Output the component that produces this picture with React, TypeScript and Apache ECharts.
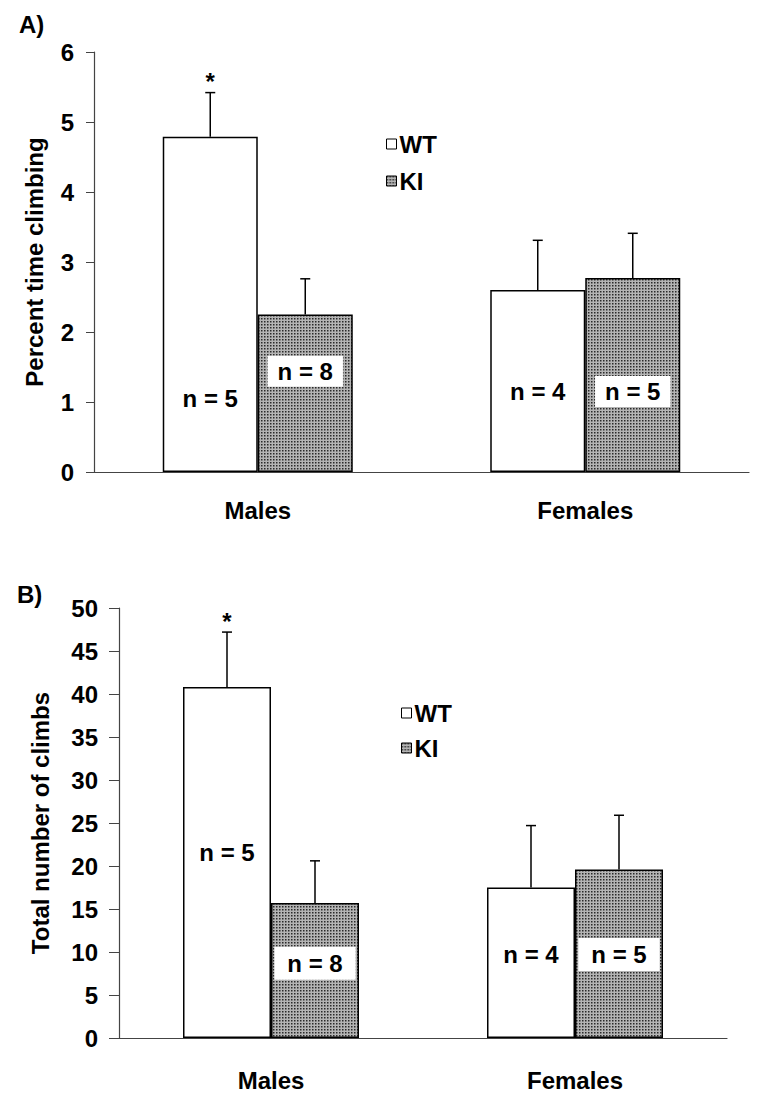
import React, { useEffect, useRef } from "react";
import * as echarts from "echarts";

// ---------- data ----------
const categories = ["Males", "Females"];
const seriesNames = ["WT", "KI"];

// Panel A: Percent time climbing
const wtA = [4.79, 2.6];
const kiA = [2.25, 2.77];
const wtErrA = [0.63, 0.71];
const kiErrA = [0.51, 0.64];
const wtNA = ["n = 5", "n = 4"];
const kiNA = ["n = 8", "n = 5"];

// Panel B: Total number of climbs
const wtB = [40.8, 17.5];
const kiB = [15.7, 19.6];
const wtErrB = [6.4, 7.2];
const kiErrB = [4.9, 6.3];
const wtNB = ["n = 5", "n = 4"];
const kiNB = ["n = 8", "n = 5"];

const significantWT = [true, false];

const yTitleA = "Percent time climbing";
const yTitleB = "Total number of climbs";

// label heights (value units) for the "n = " annotations
const wtLabelLevelA = [1.05, 1.15];
const kiLabelLevelA = [1.44, 1.15];
const wtLabelLevelB = [21.6, 9.7];
const kiLabelLevelB = [8.7, 9.7];

const FONT = "'Liberation Sans', Arial, Helvetica, sans-serif";
const FS = 24;

function makePattern() {
  const c = document.createElement("canvas");
  c.width = 3;
  c.height = 3;
  const ctx = c.getContext("2d")!;
  ctx.fillStyle = "#b4b4b4";
  ctx.fillRect(0, 0, 3, 3);
  ctx.fillStyle = "#2a2a2a";
  ctx.fillRect(0, 0, 1.5, 1.5);
  return c;
}

export default function App() {
  const ref = useRef<HTMLDivElement>(null);

  useEffect(() => {
    if (!ref.current) return;
    const chart = echarts.init(ref.current, undefined, { renderer: "svg" });
    const pattern = { image: makePattern(), repeat: "repeat" } as any;

    const panels = [
      {
        wt: wtA, ki: kiA, wtErr: wtErrA, kiErr: kiErrA, wtN: wtNA, kiN: kiNA,
        wtLvl: wtLabelLevelA, kiLvl: kiLabelLevelA, barWidth: 95,
      },
      {
        wt: wtB, ki: kiB, wtErr: wtErrB, kiErr: kiErrB, wtN: wtNB, kiN: kiNB,
        wtLvl: wtLabelLevelB, kiLvl: kiLabelLevelB, barWidth: 88,
      },
    ];

    const series: any[] = [];
    panels.forEach((p, gi) => {
      const bw = p.barWidth;
      series.push({
        name: seriesNames[0],
        type: "bar",
        xAxisIndex: gi,
        yAxisIndex: gi,
        data: p.wt,
        barWidth: bw,
        barGap: "0%",
        itemStyle: { color: "#ffffff", borderColor: "#000", borderWidth: 1.5 },
        z: 2,
      });
      series.push({
        name: seriesNames[1],
        type: "bar",
        xAxisIndex: gi,
        yAxisIndex: gi,
        data: p.ki,
        barWidth: bw,
        barGap: "0%",
        itemStyle: { color: pattern, borderColor: "#000", borderWidth: 1.5 },
        z: 2,
      });
      // error bars
      const errData: number[][] = [];
      for (let i = 0; i < categories.length; i++) {
        errData.push([i, p.wt[i], p.wtErr[i], 0]);
        errData.push([i, p.ki[i], p.kiErr[i], 1]);
      }
      series.push({
        type: "custom",
        xAxisIndex: gi,
        yAxisIndex: gi,
        data: errData,
        z: 3,
        silent: true,
        renderItem: (params: any, api: any) => {
          const cat = api.value(0);
          const mean = api.value(1);
          const err = api.value(2);
          const which = api.value(3);
          const cx = api.coord([cat, 0])[0] + (which === 0 ? -bw / 2 : bw / 2);
          const yTop = api.coord([cat, mean + err])[1];
          const yBase = api.coord([cat, mean])[1];
          const children: any[] = [
            { type: "line", shape: { x1: cx, y1: yBase, x2: cx, y2: yTop }, style: { stroke: "#000", lineWidth: 1.5 } },
            { type: "line", shape: { x1: cx - 5, y1: yTop, x2: cx + 5, y2: yTop }, style: { stroke: "#000", lineWidth: 1.5 } },
          ];
          if (which === 0 && significantWT[cat]) {
            children.push({
              type: "text",
              x: cx,
              y: yTop - 11,
              style: { text: "*", fontSize: 24, fontWeight: "bold", fontFamily: FONT, fill: "#000", align: "center", verticalAlign: "middle" },
            });
          }
          return { type: "group", children };
        },
      });
      // n labels
      const lblData: number[][] = [];
      const lblText: string[] = [];
      for (let i = 0; i < categories.length; i++) {
        lblData.push([i, p.wtLvl[i], 0]);
        lblText.push(p.wtN[i]);
        lblData.push([i, p.kiLvl[i], 1]);
        lblText.push(p.kiN[i]);
      }
      series.push({
        type: "custom",
        xAxisIndex: gi,
        yAxisIndex: gi,
        data: lblData,
        z: 4,
        silent: true,
        renderItem: (params: any, api: any) => {
          const cat = api.value(0);
          const lvl = api.value(1);
          const which = api.value(2);
          const cx = api.coord([cat, 0])[0] + (which === 0 ? -bw / 2 : bw / 2);
          const cy = api.coord([cat, lvl])[1];
          const style: any = {
            text: lblText[params.dataIndex],
            fontSize: FS,
            fontWeight: "bold",
            fontFamily: FONT,
            fill: "#000",
            align: "center",
            verticalAlign: "middle",
          };
          if (which === 1) {
            style.backgroundColor = "#fff";
            style.padding = gi === 0 ? [4, 10, 3, 10] : [5, 13, 4, 13];
          }
          return { type: "text", x: cx, y: cy, style };
        },
      });
    });

    const axisLabelStyle = { color: "#000", fontSize: FS, fontWeight: "bold", fontFamily: FONT };
    const legendCommon = {
      data: seriesNames,
      orient: "vertical",
      icon: "rect",
      itemWidth: 10,
      itemHeight: 10,
      selectedMode: false,
      itemStyle: { borderColor: "#000", borderWidth: 1 },
      textStyle: { fontSize: FS, fontWeight: "bold", fontFamily: FONT, color: "#000", lineHeight: 26, padding: [0, 0, 0, -2] },
    };

    const option: any = {
      animation: false,
      backgroundColor: "#fff",
      title: [
        { text: "A)", left: 14, top: 7, textStyle: { fontSize: FS, fontWeight: "bold", fontFamily: FONT, color: "#000" } },
        { text: "B)", left: 12, top: 577, textStyle: { fontSize: FS, fontWeight: "bold", fontFamily: FONT, color: "#000" } },
      ],
      legend: [
        { ...legendCommon, left: 381, top: 126, itemGap: 11 },
        { ...legendCommon, left: 396, top: 695, itemGap: 9 },
      ],
      grid: [
        { left: 94, top: 52, width: 655, height: 420 },
        { left: 119, top: 608, width: 608, height: 430 },
      ],
      xAxis: [
        {
          gridIndex: 0,
          type: "category",
          data: categories,
          axisLine: { lineStyle: { color: "#444", width: 1.2 } },
          axisTick: { show: false },
          axisLabel: { ...axisLabelStyle, margin: 26 },
        },
        {
          gridIndex: 1,
          type: "category",
          data: categories,
          axisLine: { lineStyle: { color: "#444", width: 1.2 } },
          axisTick: { show: false },
          axisLabel: { ...axisLabelStyle, margin: 30 },
        },
      ],
      yAxis: [
        {
          gridIndex: 0,
          type: "value",
          min: 0,
          max: 6,
          interval: 1,
          name: yTitleA,
          nameLocation: "middle",
          nameGap: 48,
          nameTextStyle: { fontSize: FS, fontWeight: "bold", fontFamily: FONT, color: "#000" },
          axisLine: { show: true, lineStyle: { color: "#444", width: 1.2 } },
          axisTick: { show: true, length: 8, lineStyle: { color: "#444" } },
          axisLabel: { ...axisLabelStyle, margin: 20 },
          splitLine: { show: false },
        },
        {
          gridIndex: 1,
          type: "value",
          min: 0,
          max: 50,
          interval: 5,
          name: yTitleB,
          nameLocation: "middle",
          nameGap: 67,
          nameTextStyle: { fontSize: FS, fontWeight: "bold", fontFamily: FONT, color: "#000" },
          axisLine: { show: true, lineStyle: { color: "#444", width: 1.2 } },
          axisTick: { show: true, length: 10, lineStyle: { color: "#444" } },
          axisLabel: { ...axisLabelStyle, margin: 21 },
          splitLine: { show: false },
        },
      ],
      series,
    };

    chart.setOption(option);
    return () => chart.dispose();
  }, []);

  return (
    <div
      ref={ref}
      style={{ position: "absolute", left: 0, top: 0, width: 763, height: 1099, background: "#fff" }}
    />
  );
}
